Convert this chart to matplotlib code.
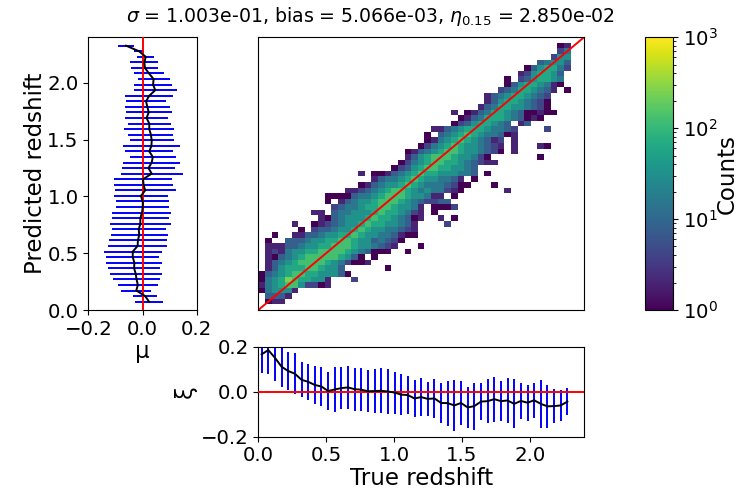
import numpy as np
import matplotlib
matplotlib.use("Agg")
import matplotlib.pyplot as plt
from matplotlib.colors import LogNorm

TITLE = r"$\sigma$ = 1.003e-01, bias = 5.066e-03, $\eta_{0.15}$ = 2.850e-02"
n_bins = 49
z_max = 2.4

# 2D histogram: (row, first column, levels), level L means about 10**(0.3*L) counts
hist_rows = [
    (1, 1, "011"), (2, 1, "3331"), (3, 0, "045551"), (4, 0, "14567752201"),
    (5, 0, "04568766551"), (5, 14, "2"), (6, 0, "03456776655530"),
    (7, 1, "135666776553"), (7, 19, "0"), (8, 1, "1345677776542001"),
    (9, 1, "103456777776530 0"), (10, 1, "1214556677776543000"), (10, 22, "0"),
    (11, 1, "11133455667776554321"), (11, 24, "0"), (12, 1, "0"),
    (12, 4, "333455667765534320"), (13, 2, "0"), (13, 5, "1133455667655443100"),
    (14, 6, "0"), (14, 8, "2334556765544321"), (15, 5, "1"),
    (15, 8, "0123455676655431"), (15, 28, "2"), (16, 9, "1034555676654301"),
    (16, 27, "1"), (16, 29, "0"), (17, 8, "11"), (17, 11, "34455567665421"),
    (17, 26, "0"), (18, 11, "23445667765541"), (18, 26, "0002"), (19, 10, "0"),
    (19, 12, "13455677765432233"), (20, 10, "000034456777655411 0"),
    (21, 13, "112345677654544210"), (21, 37, "1"), (22, 15, "01345567654443200"),
    (22, 35, "0"), (23, 17, "13445676554431 0"), (24, 15, "1"),
    (24, 17, "0013456766555443"), (24, 34, "0"), (25, 20, "0235677665543"),
    (26, 21, "024567766543211"), (27, 22, "1356777655420"), (27, 42, "0"),
    (28, 22, "013456776554320"), (28, 38, "1"), (29, 24, "0245676554321"),
    (29, 38, "1"), (29, 42, "10"), (30, 25, "014567654312"), (30, 38, "1"),
    (31, 25, "0 345676544301"), (32, 26, "1134566654432"), (32, 43, "2"),
    (33, 29, "023566543 13"), (34, 30, "0134666543010"),
    (35, 29, "1 01346654300100"), (36, 33, "13466554320"), (37, 34, "1356654320"),
    (38, 34, "1345665432"), (39, 36, "234665431"), (39, 46, "0"),
    (40, 37, "035665410"), (41, 37, "0"), (41, 39, "2356654"), (42, 39, "1256653"),
    (43, 40, "0356642"), (44, 42, "34553"), (45, 44, "255"), (46, 45, "24"),
    (47, 45, "01"),
]

# left panel, bins 1..47 of predicted redshift
mu_mean = [0.024, 0.010, -0.023, -0.017, -0.022, -0.025, -0.031, -0.030, -0.036, -0.036,
           -0.018, -0.017, -0.012, -0.014, -0.008, -0.008, -0.002, 0.001, 0.001, -0.006,
           0.010, 0.004, 0.002, 0.034, 0.022, 0.034, 0.038, 0.025, 0.033, 0.034,
           0.031, 0.025, 0.025, 0.015, 0.023, 0.018, 0.013, 0.025, 0.047, 0.039,
           0.041, 0.024, 0.009, 0.007, 0.012, -0.013, -0.061]
mu_err = [0.051, 0.044, 0.055, 0.073, 0.087, 0.096, 0.097, 0.103, 0.097, 0.107,
          0.110, 0.106, 0.106, 0.100, 0.113, 0.105, 0.109, 0.098, 0.098, 0.099,
          0.113, 0.108, 0.106, 0.114, 0.098, 0.105, 0.085, 0.089, 0.106, 0.081,
          0.083, 0.092, 0.080, 0.078, 0.085, 0.082, 0.073, 0.089, 0.080, 0.069,
          0.059, 0.057, 0.050, 0.052, 0.031, 0.017, 0.028]

# bottom panel, bins 0..46 of true redshift
xi_mean = [0.166, 0.185, 0.151, 0.111, 0.092, 0.080, 0.053, 0.044, 0.030, 0.023,
           0.003, 0.010, 0.016, 0.019, 0.011, 0.009, 0.002, 0.003, 0.004, 0.001,
           -0.004, -0.013, -0.015, -0.030, -0.024, -0.032, -0.030, -0.050, -0.051, -0.061,
           -0.050, -0.070, -0.064, -0.044, -0.042, -0.033, -0.042, -0.039, -0.054, -0.041,
           -0.049, -0.038, -0.054, -0.065, -0.064, -0.061, -0.044]
xi_err = [0.084, 0.107, 0.102, 0.089, 0.085, 0.090, 0.077, 0.081, 0.085, 0.087,
          0.086, 0.099, 0.093, 0.096, 0.096, 0.095, 0.094, 0.098, 0.100, 0.099,
          0.093, 0.090, 0.086, 0.081, 0.083, 0.076, 0.085, 0.088, 0.100, 0.113,
          0.099, 0.093, 0.104, 0.081, 0.097, 0.100, 0.088, 0.098, 0.109, 0.081,
          0.081, 0.078, 0.106, 0.095, 0.075, 0.069, 0.059]

edges = np.linspace(0, z_max, n_bins + 1)
centers = 0.5 * (edges[:-1] + edges[1:])
counts = np.full((n_bins, n_bins), np.nan)
for row, start, levels in hist_rows:
    for k, ch in enumerate(levels):
        if ch != " ":
            counts[row, start + k] = 10 ** (0.3 * int(ch))

W, H = 740, 490
fig = plt.figure(figsize=(W / 100, H / 100), dpi=100)
def box(x0, y0, x1, y1):
    return [x0 / W, 1 - y1 / H, (x1 - x0) / W, (y1 - y0) / H]

FS_TICK = 14.2
FS_LAB = 16.5
LW = 1.4
ax_main = fig.add_axes(box(258.3, 37.3, 584, 310))
ax_left = fig.add_axes(box(88.3, 37.3, 196.7, 310))
ax_bot = fig.add_axes(box(258.3, 346.7, 584, 436.7))
cax = fig.add_axes(box(645.3, 37.3, 673.3, 310))

mesh = ax_main.pcolormesh(edges, edges, np.ma.masked_invalid(counts), cmap="viridis",
                          norm=LogNorm(vmin=1, vmax=1000))
ax_main.plot([0, z_max], [0, z_max], color="red", lw=LW)
ax_main.set_xlim(0, z_max)
ax_main.set_ylim(0, z_max)
ax_main.set_xticks([])
ax_main.set_yticks([])

y_left = centers[1:48]
ax_left.errorbar(mu_mean, y_left, xerr=mu_err, fmt="none", ecolor="blue", elinewidth=LW, zorder=2)
ax_left.axvline(0, color="red", lw=LW, zorder=3)
ax_left.plot(mu_mean, y_left, color="black", lw=LW, zorder=4)
ax_left.set_xlim(-0.2, 0.2)
ax_left.set_ylim(0, z_max)
ax_left.set_xticks([-0.2, 0.0, 0.2])
ax_left.set_yticks([0, 0.5, 1.0, 1.5, 2.0])
ax_left.tick_params(labelsize=FS_TICK)
ax_left.set_xlabel("μ", fontsize=FS_LAB, labelpad=1)
ax_left.set_ylabel("Predicted redshift", fontsize=FS_LAB, labelpad=0)

x_bot = centers[:47]
ax_bot.errorbar(x_bot, xi_mean, yerr=xi_err, fmt="none", ecolor="blue", elinewidth=LW, zorder=2)
ax_bot.axhline(0, color="red", lw=LW, zorder=3)
ax_bot.plot(x_bot, xi_mean, color="black", lw=LW, zorder=4)
ax_bot.set_xlim(0, z_max)
ax_bot.set_ylim(-0.2, 0.2)
ax_bot.set_xticks([0, 0.5, 1.0, 1.5, 2.0])
ax_bot.set_yticks([-0.2, 0.0, 0.2])
ax_bot.tick_params(labelsize=FS_TICK)
ax_bot.set_xlabel("True redshift", fontsize=FS_LAB, labelpad=1)
ax_bot.set_ylabel("ξ", fontsize=FS_LAB, labelpad=3)

cb = fig.colorbar(mesh, cax=cax)
cb.ax.tick_params(labelsize=FS_TICK)
cb.set_label("Counts", fontsize=FS_LAB, labelpad=-2)

fig.text(370.5 / W, 1 - 17 / H, TITLE, ha="center", va="center", fontsize=13.6)
fig.savefig("out.png", dpi=100)
